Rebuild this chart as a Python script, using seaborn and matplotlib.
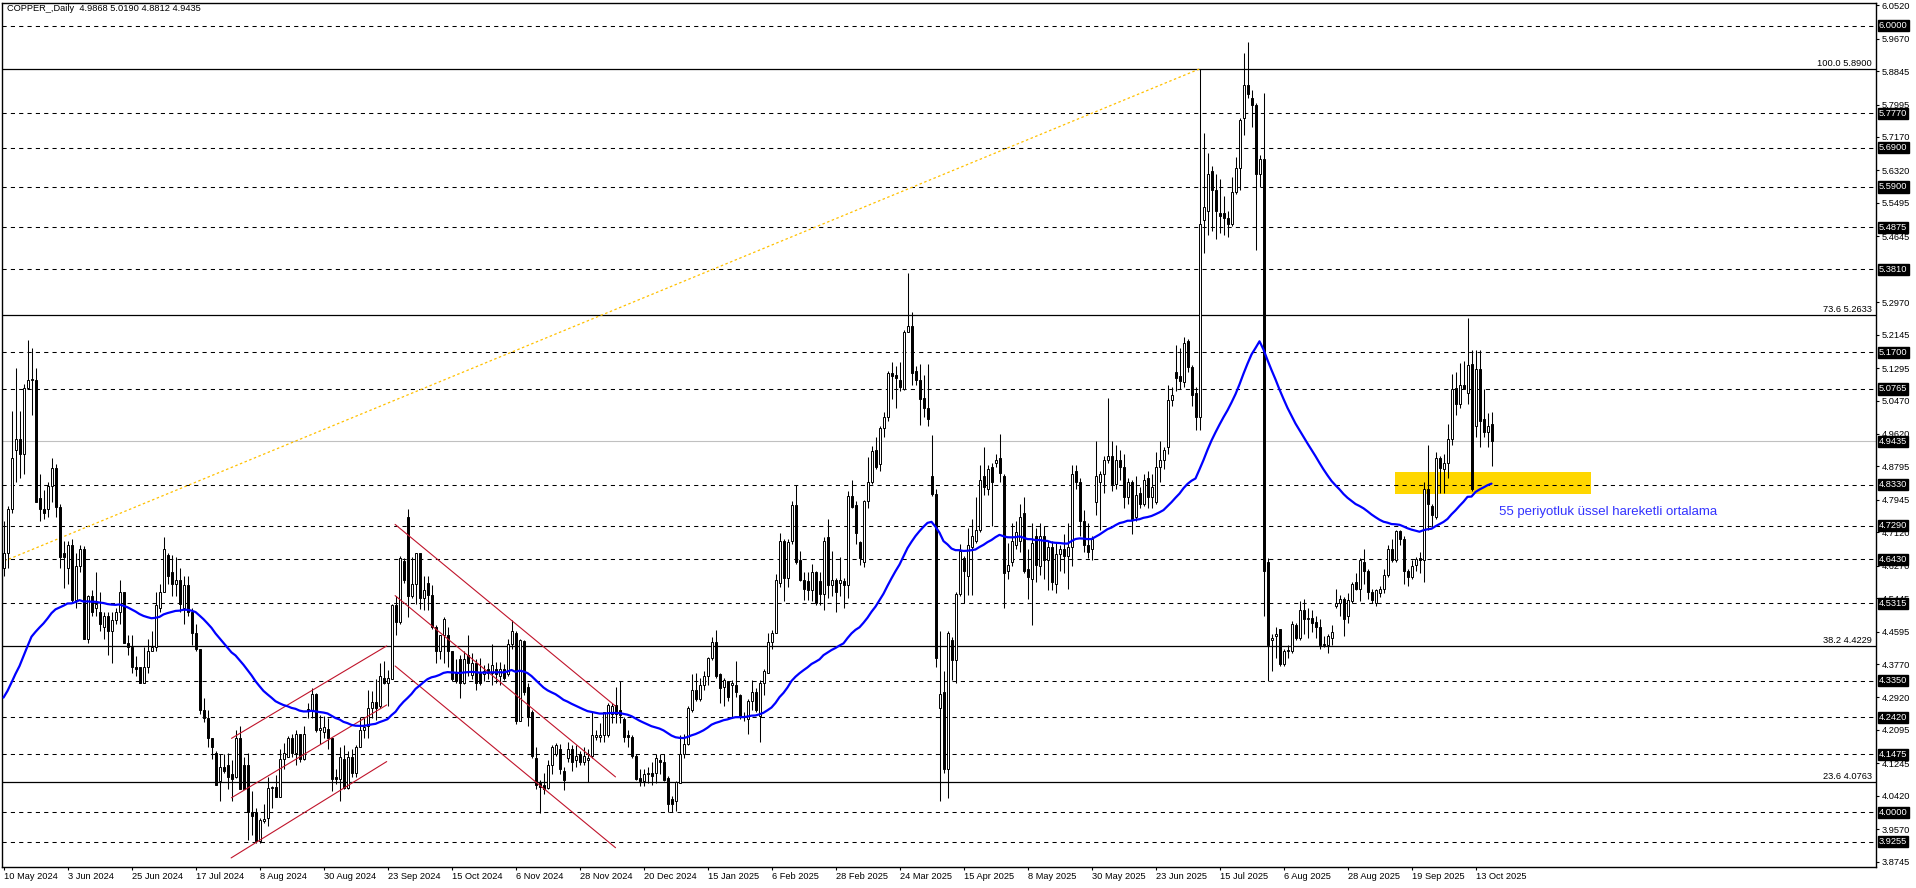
import numpy as np
import pandas as pd
import matplotlib
matplotlib.use("Agg")
import matplotlib.pyplot as plt
import matplotlib.transforms as mtransforms
from matplotlib.patches import Rectangle
import seaborn as sns

sns.set_theme(style="white")
plt.rcParams['font.family'] = ['Liberation Sans', 'DejaVu Sans']

# daily candles, 10 May 2024 .. 17 Oct 2025
opens = [
    4.62, 4.66, 4.77, 4.92, 4.95, 4.91, 5.08, 5.10, 5.10, 4.80,
    4.77, 4.77, 4.83, 4.875, 4.775, 4.66, 4.62, 4.68, 4.54, 4.625,
    4.67, 4.44, 4.55, 4.52, 4.51, 4.47, 4.50, 4.46, 4.49, 4.51,
    4.56, 4.43, 4.42, 4.37, 4.37, 4.33, 4.37, 4.41, 4.42, 4.52,
    4.56, 4.655, 4.61, 4.58, 4.59, 4.52, 4.578, 4.51, 4.455, 4.415,
    4.26, 4.24, 4.19, 4.15, 4.08, 4.115, 4.12, 4.098, 4.09, 4.19,
    4.12, 4.12, 4.00, 4.00, 3.926, 3.978, 3.986, 4.061, 4.065, 4.04,
    4.136, 4.14, 4.19, 4.15, 4.20, 4.136, 4.263, 4.26, 4.30, 4.21,
    4.205, 4.213, 4.19, 4.089, 4.085, 4.136, 4.063, 4.14, 4.10, 4.166,
    4.21, 4.22, 4.265, 4.28, 4.27, 4.342, 4.329, 4.34, 4.526, 4.484,
    4.64, 4.75, 4.55, 4.58, 4.66, 4.544, 4.582, 4.552, 4.47, 4.41,
    4.45, 4.45, 4.41, 4.355, 4.39, 4.33, 4.40, 4.35, 4.38, 4.355,
    4.351, 4.364, 4.355, 4.364, 4.346, 4.364, 4.351, 4.428, 4.457, 4.233,
    4.435, 4.319, 4.256, 4.138, 4.074, 4.07, 4.063, 4.12, 4.147, 4.16,
    4.106, 4.138, 4.16, 4.133, 4.147, 4.128, 4.133, 4.142, 4.192, 4.192,
    4.197, 4.197, 4.251, 4.274, 4.26, 4.237, 4.197, 4.192, 4.142, 4.088,
    4.079, 4.097, 4.101, 4.101, 4.133, 4.129, 4.088, 4.033, 4.029, 4.074,
    4.147, 4.174, 4.26, 4.31, 4.287, 4.324, 4.346, 4.392, 4.432, 4.351,
    4.319, 4.333, 4.324, 4.324, 4.297, 4.242, 4.237, 4.283, 4.306, 4.246,
    4.328, 4.355, 4.432, 4.455, 4.582, 4.691, 4.596, 4.691, 4.782, 4.641,
    4.591, 4.587, 4.564, 4.61, 4.587, 4.555, 4.70, 4.578, 4.591, 4.582,
    4.587, 4.578, 4.805, 4.782, 4.687, 4.637, 4.791, 4.841, 4.922, 4.886,
    4.977, 5.004, 5.116, 5.113, 5.10, 5.077, 5.222, 5.236, 5.122, 5.10,
    5.054, 5.029, 4.856, 4.81, 4.264, 4.306, 4.111, 4.437, 4.387, 4.555,
    4.647, 4.602, 4.674, 4.69, 4.718, 4.856, 4.823, 4.878, 4.889, 4.90,
    4.856, 4.614, 4.636, 4.68, 4.691, 4.762, 4.619, 4.592, 4.702, 4.625,
    4.702, 4.641, 4.674, 4.58, 4.658, 4.669, 4.652, 4.674, 4.867, 4.839,
    4.74, 4.68, 4.669, 4.79, 4.839, 4.861, 4.895, 4.906, 4.834, 4.895,
    4.878, 4.801, 4.839, 4.751, 4.812, 4.784, 4.85, 4.801, 4.79, 4.878,
    4.895, 4.928, 5.049, 5.12, 5.109, 5.093, 5.198, 5.131, 5.065, 5.005,
    5.506, 5.528, 5.63, 5.583, 5.523, 5.523, 5.512, 5.495, 5.578, 5.638,
    5.765, 5.848, 5.817, 5.798, 5.622, 5.66, 4.636, 4.437, 4.448, 4.465,
    4.377, 4.41, 4.41, 4.476, 4.443, 4.514, 4.492, 4.494, 4.483, 4.472,
    4.426, 4.426, 4.443, 4.525, 4.531, 4.543, 4.498, 4.536, 4.586, 4.569,
    4.636, 4.614, 4.561, 4.531, 4.558, 4.569, 4.603, 4.669, 4.641, 4.715,
    4.696, 4.614, 4.597, 4.63, 4.647, 4.641, 4.823, 4.779, 4.751, 4.90,
    4.873, 4.889, 4.95, 5.079, 5.038, 5.087, 5.065, 5.14, 4.983, 5.126,
    5.001, 4.968, 4.9868,
]
highs = [
    4.74, 4.78, 5.02, 5.13, 5.02, 5.09, 5.20, 5.18, 5.13, 4.86,
    4.82, 4.84, 4.90, 4.886, 4.785, 4.69, 4.69, 4.695, 4.66, 4.68,
    4.677, 4.553, 4.566, 4.61, 4.56, 4.51, 4.51, 4.51, 4.52, 4.59,
    4.56, 4.45, 4.45, 4.398, 4.37, 4.42, 4.44, 4.46, 4.56, 4.58,
    4.70, 4.66, 4.655, 4.65, 4.62, 4.60, 4.60, 4.52, 4.48, 4.415,
    4.29, 4.26, 4.19, 4.155, 4.149, 4.149, 4.15, 4.132, 4.21, 4.22,
    4.14, 4.15, 4.055, 4.01, 3.986, 4.02, 4.089, 4.067, 4.094, 4.16,
    4.175, 4.195, 4.20, 4.21, 4.20, 4.22, 4.278, 4.316, 4.304, 4.248,
    4.244, 4.24, 4.19, 4.11, 4.166, 4.17, 4.157, 4.162, 4.17, 4.243,
    4.24, 4.312, 4.308, 4.338, 4.38, 4.385, 4.363, 4.53, 4.55, 4.652,
    4.647, 4.77, 4.65, 4.66, 4.66, 4.60, 4.60, 4.578, 4.475, 4.45,
    4.497, 4.47, 4.41, 4.39, 4.40, 4.41, 4.45, 4.406, 4.39, 4.392,
    4.375, 4.38, 4.428, 4.382, 4.382, 4.378, 4.441, 4.49, 4.46, 4.441,
    4.437, 4.328, 4.26, 4.165, 4.083, 4.101, 4.133, 4.17, 4.176, 4.174,
    4.115, 4.178, 4.17, 4.17, 4.156, 4.165, 4.16, 4.256, 4.21, 4.228,
    4.256, 4.279, 4.279, 4.319, 4.333, 4.242, 4.21, 4.197, 4.147, 4.11,
    4.11, 4.115, 4.129, 4.147, 4.147, 4.147, 4.092, 4.042, 4.079, 4.197,
    4.20, 4.27, 4.351, 4.355, 4.342, 4.36, 4.396, 4.446, 4.464, 4.355,
    4.342, 4.333, 4.337, 4.384, 4.30, 4.256, 4.287, 4.337, 4.315, 4.337,
    4.365, 4.455, 4.464, 4.605, 4.709, 4.696, 4.696, 4.791, 4.832, 4.664,
    4.61, 4.61, 4.632, 4.614, 4.61, 4.70, 4.746, 4.664, 4.596, 4.65,
    4.596, 4.818, 4.845, 4.791, 4.691, 4.795, 4.904, 4.932, 4.954, 4.982,
    5.018, 5.122, 5.145, 5.136, 5.145, 5.227, 5.372, 5.272, 5.136, 5.14,
    5.113, 5.14, 4.959, 4.823, 4.46, 4.36, 4.46, 4.446, 4.56, 4.682,
    4.652, 4.724, 4.746, 4.801, 4.884, 4.928, 4.884, 4.889, 4.911, 4.961,
    4.861, 4.685, 4.735, 4.74, 4.784, 4.801, 4.669, 4.735, 4.724, 4.735,
    4.729, 4.691, 4.691, 4.685, 4.68, 4.707, 4.735, 4.884, 4.884, 4.85,
    4.768, 4.735, 4.702, 4.944, 4.867, 4.906, 5.054, 4.944, 4.933, 4.922,
    4.911, 4.85, 4.845, 4.856, 4.828, 4.861, 4.867, 4.861, 4.917, 4.944,
    4.928, 5.087, 5.082, 5.187, 5.181, 5.209, 5.203, 5.137, 5.082, 5.89,
    5.727, 5.677, 5.644, 5.622, 5.611, 5.567, 5.528, 5.616, 5.666, 5.765,
    5.93, 5.958, 5.837, 5.804, 5.671, 5.828, 4.647, 4.454, 4.47, 4.465,
    4.415, 4.426, 4.487, 4.481, 4.536, 4.542, 4.52, 4.515, 4.498, 4.492,
    4.448, 4.454, 4.476, 4.569, 4.553, 4.547, 4.558, 4.586, 4.608, 4.647,
    4.669, 4.619, 4.569, 4.569, 4.575, 4.619, 4.68, 4.696, 4.718, 4.718,
    4.702, 4.619, 4.641, 4.649, 4.663, 4.839, 4.933, 4.784, 4.917, 4.906,
    4.911, 4.988, 5.115, 5.12, 5.142, 5.148, 5.258, 5.175, 5.175, 5.175,
    5.076, 5.016, 5.019,
]
lows = [
    4.60, 4.62, 4.76, 4.84, 4.85, 4.86, 5.08, 5.01, 4.79, 4.74,
    4.745, 4.75, 4.79, 4.75, 4.62, 4.57, 4.58, 4.535, 4.52, 4.61,
    4.44, 4.43, 4.50, 4.50, 4.46, 4.44, 4.40, 4.38, 4.48, 4.48,
    4.43, 4.40, 4.355, 4.347, 4.329, 4.329, 4.355, 4.41, 4.41, 4.51,
    4.56, 4.58, 4.55, 4.55, 4.51, 4.48, 4.50, 4.425, 4.41, 4.25,
    4.23, 4.166, 4.136, 4.07, 4.03, 4.10, 4.06, 4.03, 4.087, 4.06,
    4.06, 3.93, 3.943, 3.921, 3.921, 3.974, 3.965, 4.01, 4.038, 4.038,
    4.11, 4.14, 4.14, 4.12, 4.128, 4.132, 4.24, 4.24, 4.205, 4.174,
    4.19, 4.162, 4.055, 4.072, 4.03, 4.06, 4.06, 4.09, 4.09, 4.166,
    4.19, 4.19, 4.24, 4.235, 4.265, 4.325, 4.27, 4.34, 4.45, 4.48,
    4.582, 4.496, 4.544, 4.53, 4.518, 4.514, 4.514, 4.466, 4.38, 4.39,
    4.38, 4.37, 4.333, 4.329, 4.29, 4.325, 4.346, 4.338, 4.31, 4.324,
    4.335, 4.34, 4.324, 4.33, 4.324, 4.337, 4.347, 4.414, 4.224, 4.233,
    4.297, 4.219, 4.138, 4.06, 3.997, 4.047, 4.06, 4.097, 4.143, 4.097,
    4.056, 4.128, 4.106, 4.115, 4.12, 4.12, 4.076, 4.138, 4.183, 4.178,
    4.178, 4.192, 4.228, 4.228, 4.228, 4.178, 4.165, 4.138, 4.083, 4.067,
    4.067, 4.074, 4.07, 4.074, 4.097, 4.079, 4.002, 4.0, 4.004, 4.074,
    4.138, 4.17, 4.256, 4.283, 4.283, 4.31, 4.324, 4.388, 4.342, 4.278,
    4.27, 4.283, 4.242, 4.292, 4.237, 4.233, 4.2, 4.26, 4.256, 4.178,
    4.297, 4.355, 4.414, 4.455, 4.573, 4.537, 4.573, 4.682, 4.632, 4.587,
    4.541, 4.541, 4.537, 4.528, 4.528, 4.514, 4.546, 4.55, 4.51, 4.55,
    4.519, 4.546, 4.773, 4.682, 4.628, 4.623, 4.773, 4.836, 4.873, 4.868,
    4.954, 4.995, 5.05, 5.027, 5.072, 5.074, 5.222, 5.086, 5.086, 4.986,
    5.004, 4.983, 4.805, 4.369, 4.029, 4.101, 4.036, 4.337, 4.328, 4.55,
    4.531, 4.553, 4.553, 4.685, 4.713, 4.806, 4.806, 4.729, 4.878, 4.839,
    4.52, 4.592, 4.625, 4.669, 4.663, 4.608, 4.542, 4.476, 4.586, 4.603,
    4.592, 4.564, 4.564, 4.558, 4.614, 4.608, 4.569, 4.625, 4.823, 4.702,
    4.663, 4.647, 4.641, 4.757, 4.718, 4.812, 4.889, 4.817, 4.823, 4.845,
    4.773, 4.784, 4.707, 4.74, 4.773, 4.779, 4.773, 4.773, 4.784, 4.839,
    4.873, 4.911, 5.032, 5.071, 5.076, 5.082, 5.12, 5.032, 4.972, 4.972,
    5.423, 5.468, 5.479, 5.457, 5.473, 5.468, 5.462, 5.49, 5.572, 5.583,
    5.721, 5.815, 5.743, 5.429, 5.589, 4.498, 4.333, 4.36, 4.393, 4.371,
    4.371, 4.393, 4.404, 4.437, 4.437, 4.454, 4.443, 4.459, 4.443, 4.415,
    4.421, 4.404, 4.426, 4.52, 4.498, 4.448, 4.481, 4.531, 4.564, 4.536,
    4.58, 4.542, 4.531, 4.525, 4.547, 4.558, 4.597, 4.636, 4.636, 4.68,
    4.58, 4.575, 4.592, 4.614, 4.608, 4.586, 4.718, 4.724, 4.746, 4.812,
    4.812, 4.85, 4.933, 5.01, 5.027, 5.076, 5.038, 4.817, 4.955, 4.928,
    4.955, 4.928, 4.8812,
]
closes = [
    4.66, 4.77, 4.90, 4.95, 4.91, 5.08, 5.10, 5.10, 4.79, 4.77,
    4.76, 4.83, 4.875, 4.775, 4.65, 4.65, 4.68, 4.54, 4.625, 4.67,
    4.44, 4.55, 4.51, 4.53, 4.48, 4.50, 4.46, 4.49, 4.51, 4.56,
    4.43, 4.42, 4.37, 4.365, 4.33, 4.37, 4.41, 4.42, 4.526, 4.56,
    4.67, 4.60, 4.58, 4.59, 4.53, 4.578, 4.51, 4.455, 4.415, 4.26,
    4.24, 4.19, 4.166, 4.07, 4.115, 4.106, 4.09, 4.085, 4.19, 4.06,
    4.06, 4.00, 3.99, 3.926, 3.98, 3.982, 4.063, 4.065, 4.04, 4.136,
    4.15, 4.19, 4.15, 4.20, 4.136, 4.20, 4.26, 4.30, 4.21, 4.214,
    4.218, 4.19, 4.085, 4.085, 4.14, 4.063, 4.14, 4.10, 4.166, 4.21,
    4.218, 4.265, 4.28, 4.265, 4.346, 4.329, 4.342, 4.526, 4.484, 4.647,
    4.59, 4.55, 4.58, 4.66, 4.544, 4.565, 4.552, 4.47, 4.41, 4.45,
    4.492, 4.41, 4.34, 4.333, 4.33, 4.39, 4.38, 4.38, 4.33, 4.328,
    4.36, 4.355, 4.374, 4.351, 4.364, 4.342, 4.428, 4.46, 4.233, 4.437,
    4.306, 4.242, 4.142, 4.07, 4.065, 4.058, 4.12, 4.165, 4.172, 4.109,
    4.083, 4.16, 4.129, 4.142, 4.129, 4.142, 4.138, 4.197, 4.197, 4.197,
    4.256, 4.274, 4.27, 4.251, 4.247, 4.192, 4.192, 4.142, 4.085, 4.079,
    4.097, 4.101, 4.092, 4.138, 4.129, 4.083, 4.02, 4.021, 4.076, 4.147,
    4.174, 4.265, 4.31, 4.287, 4.324, 4.346, 4.392, 4.432, 4.346, 4.315,
    4.337, 4.292, 4.328, 4.306, 4.242, 4.246, 4.283, 4.306, 4.26, 4.328,
    4.36, 4.432, 4.455, 4.591, 4.691, 4.596, 4.687, 4.782, 4.637, 4.591,
    4.569, 4.564, 4.61, 4.532, 4.555, 4.691, 4.578, 4.591, 4.56, 4.591,
    4.578, 4.805, 4.777, 4.709, 4.646, 4.791, 4.841, 4.918, 4.877, 4.977,
    5.004, 5.118, 5.109, 5.104, 5.081, 5.222, 5.236, 5.118, 5.10, 5.05,
    5.027, 5.001, 4.81, 4.392, 4.301, 4.111, 4.455, 4.387, 4.555, 4.664,
    4.614, 4.68, 4.702, 4.718, 4.845, 4.828, 4.873, 4.839, 4.895, 4.862,
    4.608, 4.63, 4.691, 4.713, 4.751, 4.614, 4.597, 4.685, 4.63, 4.702,
    4.641, 4.674, 4.586, 4.658, 4.669, 4.652, 4.674, 4.861, 4.839, 4.74,
    4.68, 4.663, 4.696, 4.856, 4.861, 4.895, 4.906, 4.834, 4.895, 4.878,
    4.801, 4.839, 4.746, 4.806, 4.784, 4.845, 4.801, 4.828, 4.878, 4.895,
    4.922, 5.049, 5.06, 5.104, 5.096, 5.192, 5.131, 5.06, 5.005, 5.495,
    5.539, 5.622, 5.583, 5.528, 5.517, 5.512, 5.495, 5.578, 5.638, 5.76,
    5.848, 5.826, 5.798, 5.622, 5.66, 4.613, 4.426, 4.443, 4.454, 4.377,
    4.41, 4.411, 4.479, 4.443, 4.514, 4.492, 4.494, 4.481, 4.47, 4.426,
    4.428, 4.448, 4.459, 4.531, 4.543, 4.492, 4.539, 4.58, 4.569, 4.641,
    4.614, 4.561, 4.539, 4.564, 4.569, 4.603, 4.669, 4.641, 4.715, 4.696,
    4.614, 4.597, 4.625, 4.644, 4.641, 4.823, 4.784, 4.757, 4.90, 4.876,
    4.889, 4.95, 5.076, 5.038, 5.087, 5.076, 5.137, 4.823, 5.126, 4.994,
    4.968, 4.983, 4.9435,
]

# EMA value just before the first visible bar
ema_seed = 4.278
ema_period = 55

date_labels = ['10 May 2024', '3 Jun 2024', '25 Jun 2024', '17 Jul 2024', '8 Aug 2024',
               '30 Aug 2024', '23 Sep 2024', '15 Oct 2024', '6 Nov 2024', '28 Nov 2024',
               '20 Dec 2024', '15 Jan 2025', '6 Feb 2025', '28 Feb 2025', '24 Mar 2025',
               '15 Apr 2025', '8 May 2025', '30 May 2025', '23 Jun 2025', '15 Jul 2025',
               '6 Aug 2025', '28 Aug 2025', '19 Sep 2025', '13 Oct 2025']
label_step = 16

# price scale ticks (5.3820 sits fully under the 5.3810 marker, so it is left out)
price_ticks = [6.0520, 5.9670, 5.8845, 5.7995, 5.7170, 5.6320, 5.5495, 5.4645,
               5.2970, 5.2145, 5.1295, 5.0470, 4.9620, 4.8795, 4.7945, 4.7120, 4.6270,
               4.5445, 4.4595, 4.3770, 4.2920, 4.2095, 4.1245, 4.0420, 3.9570, 3.8745]
level_prices = [6.0000, 5.7770, 5.6900, 5.5900, 5.4875, 5.3810, 5.1700, 5.0765, 4.8330,
                4.7290, 4.6430, 4.5315, 4.3350, 4.2420, 4.1475, 4.0000, 3.9255]
fib_pcts = [100.0, 73.6, 38.2, 23.6]
fib_prices = [5.8900, 5.2633, 4.4229, 4.0763]
last_price = 4.9435

# fibo base line (bar, price)
fib_trend_bars = [-1, 299]
fib_trend_prices = [4.634, 5.890]

# rising channel and falling channel (bar, price) pairs
up_channel = [([57.0, 95.8], [4.188, 4.423]),
              ([57.0, 95.8], [4.037, 4.273]),
              ([56.9, 95.8], [3.884, 4.129])]
down_channel = [([97.9, 153.0], [4.732, 4.270]),
                ([97.9, 153.0], [4.551, 4.090]),
                ([97.9, 153.0], [4.372, 3.910])]

# support zone
zone_bars = [347.9, 396.9]
zone_prices = [4.809, 4.866]
note_text = '55 periyotluk üssel hareketli ortalama'
note_bar, note_price = 373.9, 4.764

title = 'COPPER_,Daily  4.9868 5.0190 4.8812 4.9435'

df = pd.DataFrame({'open': opens, 'high': highs, 'low': lows, 'close': closes})
df['bar'] = np.arange(len(df))
ema = pd.concat([pd.Series([ema_seed]), df['close']], ignore_index=True)
df['ema'] = ema.ewm(span=ema_period, adjust=False).mean().iloc[1:].to_numpy()

fs = 6.7
W, H = 1916, 888
fig = plt.figure(figsize=(W / 100, H / 100), dpi=100, facecolor='white')
ax = fig.add_axes([2 / W, 21.5 / H, 1874 / W, 863.5 / H])
ax.set_facecolor('white')

ax.add_patch(Rectangle((zone_bars[0], zone_prices[0]), zone_bars[1] - zone_bars[0],
                       zone_prices[1] - zone_prices[0], facecolor='#ffd700',
                       edgecolor='none', zorder=1))

for p in level_prices:
    ax.axhline(p, color='black', lw=0.75, ls=(0, (4, 4)), zorder=2)
for p in fib_prices:
    ax.axhline(p, color='black', lw=0.9, zorder=2)
ax.axhline(last_price, color='#c0c0c0', lw=0.8, zorder=2)

ax.plot(fib_trend_bars, fib_trend_prices, color='#ffc000', lw=0.9, ls=(0, (2, 2)), zorder=2)

# candles
up = (df['close'] >= df['open']).to_numpy()
ax.vlines(df['bar'], df['low'], df['high'], color='black', lw=0.75, zorder=3)
body_lo = np.minimum(df['open'], df['close'])
body_h = np.maximum((df['close'] - df['open']).abs(), 0.0015)
ax.bar(df['bar'], body_h, bottom=body_lo, width=0.5,
       color=np.where(up, 'white', 'black'), edgecolor='black', lw=0.7, zorder=4)

for xs, ys in up_channel + down_channel:
    ax.plot(xs, ys, color='#c0142b', lw=0.8, zorder=5)

sns.lineplot(data=df, x='bar', y='ema', color='#0000ff', lw=1.6, ax=ax, zorder=6)

ax.text(note_bar, note_price, note_text, color='#3333ff', fontsize=9.5,
        va='center', ha='left', zorder=7)

# axes look
ax.set_xlim(-0.375, 468.125)
ax.set_ylim(3.8622, 6.0577)
ax.set_xlabel('')
ax.set_ylabel('')
for s in ax.spines.values():
    s.set_visible(True)
    s.set_color('black')
    s.set_linewidth(1.0)

ax.yaxis.tick_right()
ax.set_yticks(price_ticks)
ax.set_yticklabels([f'{p:.4f}' for p in price_ticks])
ax.tick_params(axis='y', right=True, left=False, labelright=True, labelleft=False,
               direction='out', length=2.5, width=0.8, pad=1.5, labelsize=fs,
               color='black', labelcolor='black')
ax.set_xticks([i * label_step for i in range(len(date_labels))])
ax.set_xticklabels(date_labels, ha='left')
ax.tick_params(axis='x', bottom=True, direction='out', length=2.5, width=0.8,
               pad=1.5, labelsize=fs, color='black', labelcolor='black')

ybl = mtransforms.blended_transform_factory(ax.transAxes, ax.transData)
for p in level_prices + [last_price]:
    ax.text(1.0016, p, f'{p:.4f}', transform=ybl, ha='left', va='center',
            fontsize=fs, color='white', clip_on=False, zorder=10,
            bbox=dict(boxstyle='square,pad=0.12', fc='black', ec='black'))
for pct, p in zip(fib_pcts, fib_prices):
    ax.annotate(f'{pct:.1f} {p:.4f}', xy=(1, p), xycoords=ybl, xytext=(-3, 1),
                textcoords='offset points', ha='right', va='bottom', fontsize=fs,
                color='black', zorder=7)

ax.text(0.0027, 0.9942, title, transform=ax.transAxes, ha='left', va='center',
        fontsize=fs, color='black', zorder=7)

fig.savefig('out.png', dpi=100, facecolor='white')
